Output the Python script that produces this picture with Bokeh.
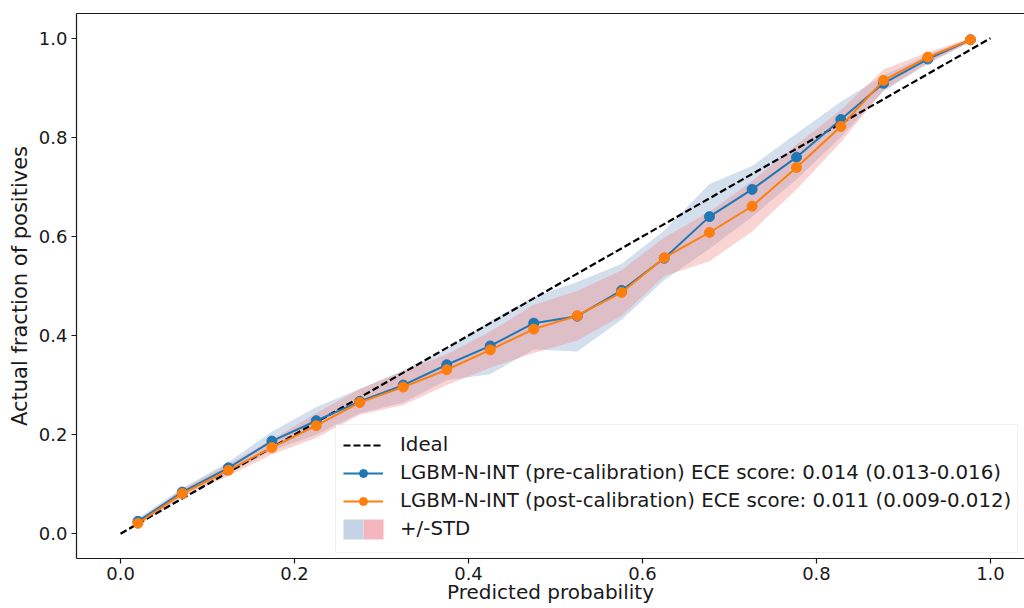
from bokeh.plotting import figure
from bokeh.models import (Range1d, FixedTicker, LinearAxis, Legend, LegendItem,
                          BoxAnnotation, ColumnDataSource)
from bokeh.embed import file_html
from bokeh.resources import INLINE

# ---------------- data ----------------
mean_pred = [0.020, 0.071, 0.124, 0.174, 0.225, 0.275, 0.325, 0.375, 0.425, 0.475,
             0.525, 0.576, 0.625, 0.677, 0.726, 0.777, 0.828, 0.877, 0.928, 0.977]
pre_frac = [0.025, 0.084, 0.133, 0.187, 0.228, 0.267, 0.300, 0.341, 0.379, 0.425,
            0.439, 0.491, 0.556, 0.640, 0.695, 0.760, 0.836, 0.909, 0.958, 0.997]
post_frac = [0.021, 0.081, 0.128, 0.174, 0.218, 0.265, 0.296, 0.331, 0.371, 0.413,
             0.440, 0.487, 0.557, 0.608, 0.661, 0.739, 0.822, 0.915, 0.962, 0.997]
pre_lo = [0.019, 0.076, 0.121, 0.168, 0.200, 0.243, 0.265, 0.310, 0.322, 0.372,
          0.368, 0.432, 0.512, 0.575, 0.640, 0.715, 0.800, 0.893, 0.948, 0.993]
pre_hi = [0.031, 0.092, 0.145, 0.206, 0.256, 0.292, 0.330, 0.372, 0.430, 0.478,
          0.508, 0.545, 0.612, 0.706, 0.742, 0.808, 0.872, 0.925, 0.966, 1.000]
post_lo = [0.016, 0.073, 0.117, 0.160, 0.193, 0.240, 0.260, 0.300, 0.335, 0.365,
           0.390, 0.440, 0.520, 0.550, 0.610, 0.695, 0.790, 0.895, 0.950, 0.993]
post_hi = [0.026, 0.090, 0.140, 0.190, 0.243, 0.292, 0.328, 0.362, 0.408, 0.462,
           0.490, 0.532, 0.598, 0.650, 0.712, 0.785, 0.855, 0.937, 0.972, 1.000]
ideal_x = [0.0, 1.0]
ideal_y = [0.0, 1.0]

x_ticks = [0.0, 0.2, 0.4, 0.6, 0.8, 1.0]
x_tick_labels = ["0.0", "0.2", "0.4", "0.6", "0.8", "1.0"]
y_ticks = [0.0, 0.2, 0.4, 0.6, 0.8, 1.0]
y_tick_labels = ["0.0", "0.2", "0.4", "0.6", "0.8", "1.0"]

series_labels = ["Ideal",
                 "LGBM-N-INT (pre-calibration) ECE score: 0.014 (0.013-0.016)",
                 "LGBM-N-INT (post-calibration) ECE score: 0.011 (0.009-0.012)",
                 "+/-STD"]
x_title = "Predicted probability"
y_title = "Actual fraction of positives"

# ---------------- figure ----------------
FONT = "DejaVu Sans"
INK = "#1a1a1a"

p = figure(width=1024, height=608, output_backend="svg", toolbar_location=None,
           tools="",
           x_range=Range1d(-0.0506, 1.0391), y_range=Range1d(-0.05, 1.05),
           min_border_left=76, min_border_right=0, min_border_top=13,
           min_border_bottom=50)
p.grid.visible = False
p.outline_line_color = None
p.background_fill_color = "white"
p.border_fill_color = "white"

src = ColumnDataSource(dict(x=mean_pred, pre=pre_frac, post=post_frac,
                            pre_lo=pre_lo, pre_hi=pre_hi,
                            post_lo=post_lo, post_hi=post_hi))

p.varea(x="x", y1="pre_lo", y2="pre_hi", source=src,
        fill_color="#b0c4de", fill_alpha=0.55)
p.varea(x="x", y1="post_lo", y2="post_hi", source=src,
        fill_color="#f08080", fill_alpha=0.35)

ideal_r = p.line(ideal_x, ideal_y, line_color="black", line_dash="7 3",
                 line_width=2.2)
pre_line = p.line("x", "pre", source=src, line_color="#1f77b4", line_width=2)
pre_pts = p.scatter("x", "pre", source=src, size=10, fill_color="#1f77b4",
                    line_color="#1f77b4")
post_line = p.line("x", "post", source=src, line_color="#ff7f0e", line_width=2)
post_pts = p.scatter("x", "post", source=src, size=10, fill_color="#ff7f0e",
                     line_color="#ff7f0e")
std_dummy = p.varea(x=[], y1=[], y2=[], fill_alpha=0)

# ---------------- axes ----------------
p.xaxis.ticker = FixedTicker(ticks=x_ticks)
p.xaxis.major_label_overrides = dict(zip(x_ticks, x_tick_labels))
p.yaxis.ticker = FixedTicker(ticks=y_ticks)
p.yaxis.major_label_overrides = dict(zip(y_ticks, y_tick_labels))
for ax in (p.xaxis[0], p.yaxis[0]):
    ax.major_tick_out = 5
    ax.major_tick_in = 0
    ax.minor_tick_line_color = None
    ax.axis_line_color = INK
    ax.axis_line_width = 1.2
    ax.major_tick_line_color = INK
    ax.major_tick_line_width = 1.2
    ax.major_label_text_font = FONT
    ax.major_label_text_font_size = "18px"
    ax.major_label_text_color = INK
    ax.axis_label_text_font = FONT
    ax.axis_label_text_font_style = "normal"
    ax.axis_label_text_color = INK

p.yaxis.major_label_standoff = 4
p.yaxis.axis_label = y_title
p.yaxis.axis_label_text_font_size = "21px"
p.yaxis.axis_label_standoff = 4

p.xaxis.major_label_standoff = 3
p.xaxis.axis_label = x_title
p.xaxis.axis_label_text_font_size = "20px"
p.xaxis.axis_label_standoff = -3

top_axis = LinearAxis(ticker=FixedTicker(ticks=[]), major_tick_out=0,
                      major_tick_in=0, major_label_standoff=0,
                      minor_tick_line_color=None, axis_line_color=INK,
                      axis_line_width=1.2)
p.add_layout(top_axis, "above")

# ---------------- legend ----------------
# legend frame (white, semi-transparent, light grey border)
p.add_layout(BoxAnnotation(left=259, right=941, bottom=6, top=134,
                           left_units="screen", right_units="screen",
                           bottom_units="screen", top_units="screen",
                           fill_color="white", fill_alpha=0.8,
                           line_color="#cccccc", line_width=1))
# two-colour swatch for the +/-STD entry
p.add_layout(BoxAnnotation(left=267, right=287, bottom=19, top=39,
                           left_units="screen", right_units="screen",
                           bottom_units="screen", top_units="screen",
                           fill_color="#c4d3e6", fill_alpha=1, line_color=None))
p.add_layout(BoxAnnotation(left=287, right=307, bottom=19, top=39,
                           left_units="screen", right_units="screen",
                           bottom_units="screen", top_units="screen",
                           fill_color="#f5b7bf", fill_alpha=1, line_color=None))

legend = Legend(items=[
    LegendItem(label=series_labels[0], renderers=[ideal_r]),
    LegendItem(label=series_labels[1], renderers=[pre_line, pre_pts]),
    LegendItem(label=series_labels[2], renderers=[post_line, post_pts]),
    LegendItem(label=series_labels[3], renderers=[std_dummy]),
], location=(267, 18), orientation="vertical", glyph_width=40, glyph_height=20,
   label_height=20, label_standoff=17, spacing=5, padding=6, margin=0,
   label_text_font=FONT, label_text_font_size="19.8px", label_text_color=INK,
   background_fill_alpha=0, border_line_color=None)
p.add_layout(legend, "center")

# plain white strip along the (cut-off) right side of the plot area
p.add_layout(BoxAnnotation(left=943, right=950, bottom=1, top=544,
                           left_units="screen", right_units="screen",
                           bottom_units="screen", top_units="screen",
                           fill_color="white", fill_alpha=1, line_color=None,
                           level="overlay"))

open("out.html", "w").write(file_html(p, INLINE))
